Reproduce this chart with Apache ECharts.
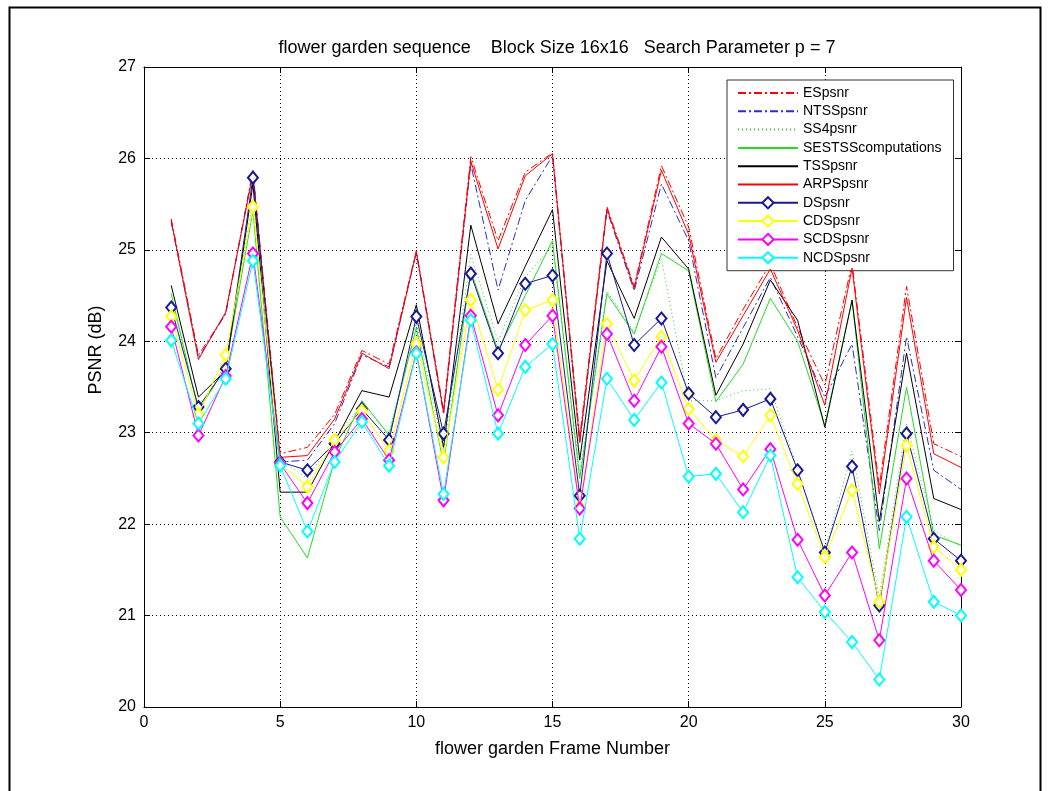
<!DOCTYPE html>
<html>
<head>
<meta charset="utf-8">
<script src="https://cdn.jsdelivr.net/npm/echarts@6/dist/echarts.min.js"></script>
<style>
  html, body { margin: 0; padding: 0; background: #fff; }
  #chart { width: 1057px; height: 791px; }
</style>
</head>
<body>
<div id="chart"></div>
<script>
// ---- data ----
const frames = [1,2,3,4,5,6,7,8,9,10,11,12,13,14,15,16,17,18,19,20,21,22,23,24,25,26,27,28,29,30];
const seriesNames = ['ESpsnr','NTSSpsnr','SS4psnr','SESTSScomputations','TSSpsnr','ARPSpsnr','DSpsnr','CDSpsnr','SCDSpsnr','NCDSpsnr'];
const ESpsnr   = [25.34,23.85,24.30,25.85,22.77,22.84,23.20,23.90,23.75,24.99,23.25,26.02,25.10,25.85,26.06,22.95,25.47,24.60,25.92,25.25,23.81,24.35,24.85,24.15,23.52,24.85,22.41,24.60,22.88,22.74];
const NTSSpsnr = [25.30,23.82,24.30,25.87,22.68,22.70,23.10,23.85,23.72,24.97,23.20,25.94,24.56,25.54,26.03,22.88,25.43,24.55,25.72,25.10,23.60,24.15,24.70,24.05,23.39,23.97,21.93,24.05,22.59,22.38];
const SS4psnr  = [24.45,23.25,23.75,25.55,22.70,22.50,22.95,23.30,23.00,24.20,22.80,24.95,24.00,24.70,25.05,22.55,24.55,24.10,24.90,23.35,23.35,23.46,23.48,22.60,21.70,22.80,21.20,23.10,21.93,21.75];
const SESTSScomputations = [24.52,23.24,23.72,25.43,22.08,21.63,22.70,23.35,22.97,24.15,22.66,24.77,23.90,24.50,25.10,22.50,24.52,24.08,24.96,24.77,23.34,23.75,24.47,24.00,23.08,24.45,21.73,23.50,21.88,21.77];
const TSSpsnr  = [24.61,23.39,23.68,25.72,22.35,22.35,22.90,23.46,23.39,24.40,22.84,25.27,24.19,24.82,25.44,22.70,24.88,24.25,25.14,24.79,23.41,23.97,24.67,24.23,23.06,24.45,22.03,23.87,22.28,22.16];
const ARPSpsnr = [25.32,23.80,24.32,25.83,22.73,22.75,23.15,23.87,23.70,24.98,23.22,25.97,25.01,25.81,26.05,22.90,25.45,24.58,25.87,25.17,23.77,24.28,24.79,24.12,23.30,24.80,22.33,24.48,22.77,22.62];
const DSpsnr   = [24.37,23.28,23.70,25.79,22.68,22.59,22.88,23.26,22.92,24.27,22.99,24.74,23.87,24.63,24.72,22.31,24.96,23.96,24.25,23.43,23.17,23.25,23.37,22.59,21.69,22.63,21.11,22.99,21.84,21.60];
const CDSpsnr  = [24.27,23.20,23.85,25.47,22.66,22.41,22.92,23.24,22.80,23.97,22.73,24.45,23.47,24.34,24.45,22.19,24.19,23.57,24.05,23.26,22.92,22.74,23.19,22.44,21.64,22.37,21.15,22.86,21.75,21.50];
const SCDSpsnr = [24.16,22.97,23.62,24.96,22.66,22.23,22.79,23.15,22.70,23.88,22.26,24.28,23.19,23.96,24.28,22.17,24.08,23.35,23.94,23.10,22.88,22.38,22.82,21.83,21.22,21.69,20.73,22.50,21.60,21.28];
const NCDSpsnr = [24.01,23.10,23.59,24.88,22.64,21.92,22.68,23.12,22.64,23.87,22.33,24.23,22.99,23.72,23.97,21.84,23.59,23.14,23.55,22.52,22.55,22.13,22.75,21.42,21.04,20.71,20.30,22.08,21.15,21.00];
const xTicks = [0,5,10,15,20,25,30];
const yTicks = [20,21,22,23,24,25,26,27];

const values = [ESpsnr,NTSSpsnr,SS4psnr,SESTSScomputations,TSSpsnr,ARPSpsnr,DSpsnr,CDSpsnr,SCDSpsnr,NCDSpsnr];
const colors = ['#ff0000','#2a2ad0','#33cc33','#22dd22','#000000','#ff0000','#1a1a90','#ffff00','#ff00ff','#00ffff'];
const dashes = [[8,3,2,3],[8,3,2,3],[1,3],'solid','solid','solid','solid','solid','solid','solid'];
const markers = [false,false,false,false,false,false,true,true,true,true];

const FONT = '"Liberation Sans", Arial, sans-serif';
const chart = echarts.init(document.getElementById('chart'), null, {renderer: 'canvas'});

const series = seriesNames.map((name, i) => ({
  name: name,
  type: 'line',
  data: frames.map((f, k) => [f, values[i][k]]),
  symbol: markers[i] ? 'emptyDiamond' : 'none',
  symbolSize: [10, 12],
  showSymbol: markers[i],
  animation: false,
  lineStyle: { color: colors[i], width: 1, type: dashes[i] },
  itemStyle: { color: colors[i], borderColor: colors[i], borderWidth: 1 },
  emphasis: { disabled: true },
  z: 2 + i
}));

const axisCommon = {
  axisLine: { show: true, onZero: false, lineStyle: { color: '#000', width: 1 } },
  axisTick: { show: true, inside: true, length: 6, lineStyle: { color: '#000' } },
  axisLabel: { color: '#000', fontSize: 16, fontFamily: FONT },
};

chart.setOption({
  backgroundColor: '#fff',
  animation: false,
  title: {
    text: 'flower garden sequence    Block Size 16x16   Search Parameter p = 7',
    left: 552, top: 34, textAlign: 'center',
    textStyle: { fontSize: 18, fontWeight: 'normal', color: '#000', fontFamily: FONT }
  },
  grid: { left: 144, right: 96, top: 67, bottom: 84, containLabel: false },
  xAxis: [
    Object.assign({}, axisCommon, {
      type: 'value', min: 0, max: 30, interval: 5, position: 'bottom',
      axisLabel: { color: '#000', fontSize: 16, fontFamily: FONT, margin: 8 },
      splitLine: { show: true, lineStyle: { color: '#000', width: 1, type: [1, 3] } },
      name: 'flower garden Frame Number', nameLocation: 'middle', nameGap: 33,
      nameTextStyle: { fontSize: 18, color: '#000', fontFamily: FONT }
    }),
    Object.assign({}, axisCommon, {
      type: 'value', min: 0, max: 30, interval: 5, position: 'top',
      axisLabel: { show: false }, splitLine: { show: false }
    })
  ],
  yAxis: [
    Object.assign({}, axisCommon, {
      type: 'value', min: 20, max: 27, interval: 1, position: 'left',
      axisLabel: { color: '#000', fontSize: 16, fontFamily: FONT, margin: 8 },
      splitLine: { show: true, lineStyle: { color: '#000', width: 1, type: [1, 3] } }
    }),
    Object.assign({}, axisCommon, {
      type: 'value', min: 20, max: 27, interval: 1, position: 'right',
      axisLabel: { show: false }, splitLine: { show: false }
    })
  ],
  legend: {
    data: seriesNames.map((n, i) => markers[i]
      ? { name: n }
      : { name: n, itemStyle: { color: 'rgba(0,0,0,0)', borderColor: 'rgba(0,0,0,0)', borderWidth: 0 } }),
    orient: 'vertical',
    left: 727, top: 80,
    itemWidth: 60, itemHeight: 14, itemGap: 4.3,
    padding: [6, 12, 6, 10],
    backgroundColor: '#fff',
    borderColor: '#333', borderWidth: 1,
    textStyle: { fontSize: 14, color: '#000', fontFamily: FONT, lineHeight: 14 },
    selectedMode: false
  },
  graphic: [
    {
      type: 'text', x: 96, y: 350, rotation: Math.PI / 2,
      style: { text: 'PSNR (dB)', font: '18px ' + FONT, fill: '#000', align: 'center', verticalAlign: 'middle' }
    },
    {
      type: 'rect', left: 7, top: 5, z: -10,
      shape: { width: 1031, height: 800 },
      style: { fill: null, stroke: '#000', lineWidth: 2 }
    }
  ],
  series: series
});
</script>
</body>
</html>
